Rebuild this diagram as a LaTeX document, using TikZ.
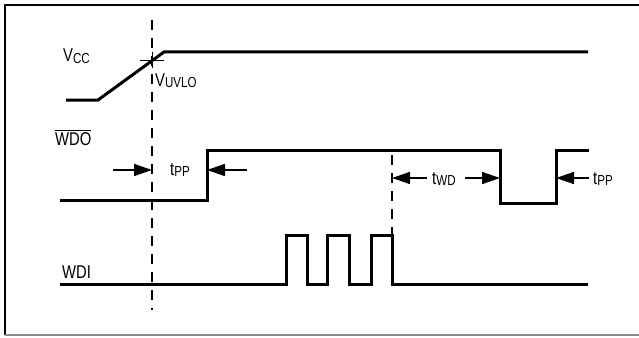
\documentclass[tikz,border=0pt]{standalone}
\usepackage{fontspec}
\setmainfont{Liberation Sans}[FakeStretch=0.8]
\usetikzlibrary{arrows.meta}
\newcommand{\sbs}[1]{{\fontsize{14.5}{14.5}\selectfont\raisebox{-1.5pt}{#1}}}
\newcommand{\ovlt}[1]{$\overline{\hbox{#1}}$}
\tikzset{
  sig/.style={line width=3pt, line join=miter},
  guide/.style={line width=1.8pt, dash pattern=on 10pt off 8pt},
  dim/.style={line width=1.5pt, -{Triangle[length=18pt,width=12pt]}},
  lbl/.style={inner sep=0pt, anchor=base west, font=\fontsize{18.5}{20}\selectfont},
  frameline/.style={line width=2.5pt},
}
\begin{document}
\begin{tikzpicture}[x=1pt,y=-1pt]
\useasboundingbox (0,0) rectangle (639,337);
% frame
\draw[frameline] (5,335) -- (5,5) -- (639,5);
\draw[line width=1.2pt, black!45] (5,335) -- (639,335);
% vertical guides
\coordinate (g1t) at (152,20);
\coordinate (g1b) at (152,310);
\draw[guide] (g1t) -- (g1b);
\coordinate (g2t) at (392,155);
\coordinate (g2b) at (392,235);
\draw[guide] (g2t) -- (g2b);
% VCC
\coordinate (v0) at (66,100);
\coordinate (v1) at (98,100);
\coordinate (v2) at (164,52);
\coordinate (v3) at (588,52);
\draw[sig] (v0) -- (v1) -- (v2) -- (v3);
% UVLO cross
\coordinate (cx) at (152,60);
\draw[line width=1pt] ([xshift=-12pt]cx) -- ([xshift=12pt]cx);
\draw[line width=1pt] ([yshift=-8pt]cx) -- ([yshift=8pt]cx);
% WDO
\coordinate (w0) at (60,200);
\coordinate (w1) at (207,200);
\coordinate (w2) at (207,150);
\coordinate (w3) at (500,150);
\coordinate (w4) at (500,203);
\coordinate (w5) at (556,203);
\coordinate (w6) at (556,150);
\coordinate (w7) at (589,150);
\draw[sig] (w0) -- (w1) -- (w2) -- (w3) -- (w4) -- (w5) -- (w6) -- (w7);
% WDI
\draw[sig] (60,284) -- (286,284) -- (286,235) -- (307,235) -- (307,284)
  -- (327,284) -- (327,235) -- (349,235) -- (349,284)
  -- (371,284) -- (371,235) -- (392,235) -- (392,284) -- (588,284);
% labels
\node[lbl] (lvcc) at (63,62) {V\sbs{CC}};
\node[lbl] (luvlo) at (155,86) {V\sbs{UVLO}};
\node[lbl] (lwdo) at (55,145) {\ovlt{WDO}};
\node[lbl] (lwdi) at (62,278) {WDI};
\node[lbl] (ltpp1) at (170,175) {t\sbs{PP}};
\node[lbl] (ltwd) at (432,184) {t\sbs{WD}};
\node[lbl] (ltpp2) at (593,184) {t\sbs{PP}};
% dimension arrows
\coordinate (a1s) at (113,170);
\coordinate (a1e) at (152,170);
\coordinate (a2s) at (247,170);
\coordinate (a2e) at (207,170);
\draw[dim] (a1s) -- (a1e);
\draw[dim] (a2s) -- (a2e);
\coordinate (a3s) at (427,178);
\coordinate (a3e) at (392,178);
\coordinate (a4s) at (465,178);
\coordinate (a4e) at (500,178);
\draw[dim] (a3s) -- (a3e);
\draw[dim] (a4s) -- (a4e);
\coordinate (a5s) at (589,178);
\coordinate (a5e) at (556,178);
\draw[dim] (a5s) -- (a5e);
\end{tikzpicture}
\end{document}
